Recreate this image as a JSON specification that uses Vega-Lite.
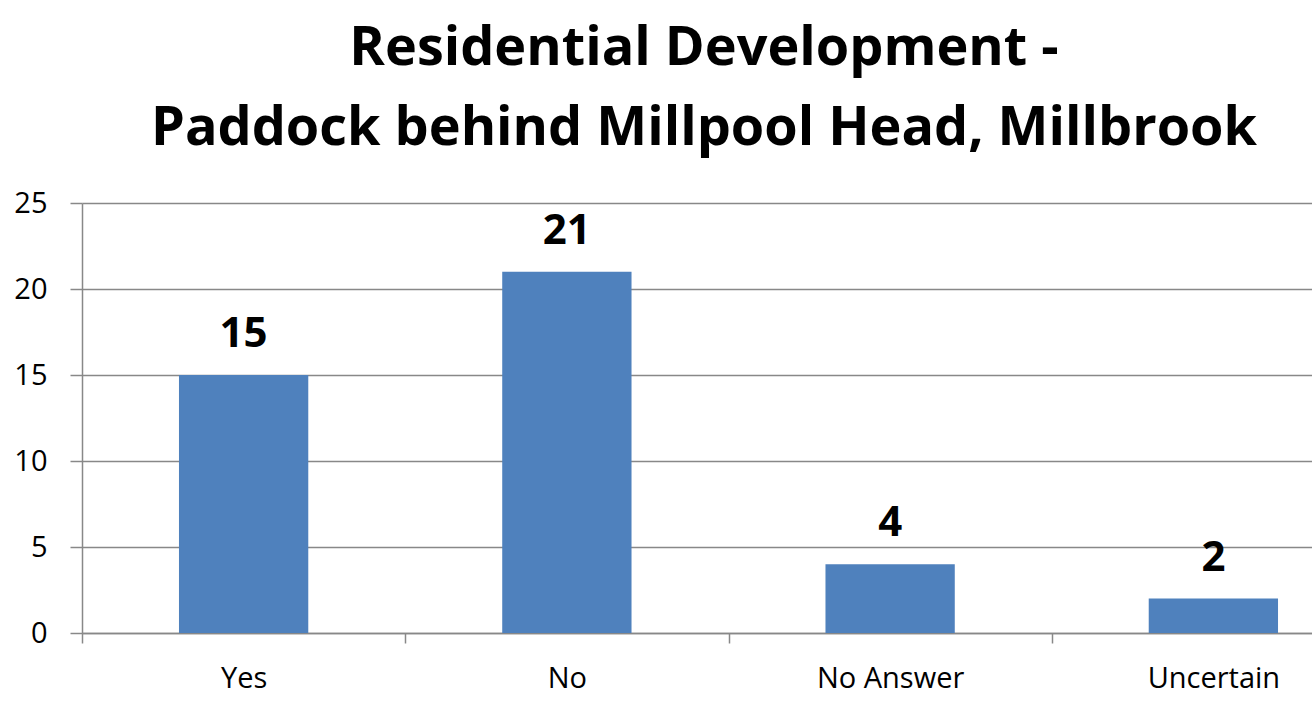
{
  "$schema": "https://vega.github.io/schema/vega-lite/v6.json",
  "width": 1230,
  "height": 430,
  "autosize": "none",
  "padding": {"left": 82, "top": 203, "right": 0, "bottom": 79},
  "background": "white",
  "config": {"view": {"stroke": null}, "font": "Open Sans"},
  "title": {
    "text": ["Residential Development -", "Paddock behind Millpool Head, Millbrook"],
    "fontSize": 54,
    "fontWeight": "bold",
    "font": "Open Sans",
    "lineHeight": 80,
    "anchor": "middle",
    "offset": 33,
    "dx": 7,
    "color": "black"
  },
  "data": {
    "values": [
      {"answer": "Yes", "count": 15},
      {"answer": "No", "count": 21},
      {"answer": "No Answer", "count": 4},
      {"answer": "Uncertain", "count": 2}
    ]
  },
  "encoding": {
    "x": {
      "field": "answer",
      "type": "nominal",
      "sort": null,
      "scale": {"range": [0, 1293], "paddingInner": 0, "paddingOuter": 0},
      "axis": {
        "title": null,
        "labelAngle": 0,
        "tickBand": "extent",
        "tickSize": 10,
        "labelPadding": 21,
        "labelFontSize": 29,
        "labelFont": "Open Sans",
        "labelColor": "black",
        "domainColor": "#888888",
        "tickColor": "#888888",
        "domainWidth": 1.5,
        "tickWidth": 1.5,
        "grid": false
      }
    },
    "y": {
      "field": "count",
      "type": "quantitative",
      "scale": {"domain": [0, 25]},
      "axis": {
        "title": null,
        "values": [0, 5, 10, 15, 20, 25],
        "grid": true,
        "gridColor": "#888888",
        "gridWidth": 1.5,
        "tickSize": 12,
        "labelPadding": 23,
        "labelFontSize": 29,
        "labelFont": "Open Sans",
        "labelColor": "black",
        "domainColor": "#888888",
        "tickColor": "#888888",
        "domainWidth": 1.5,
        "tickWidth": 1.5
      }
    }
  },
  "layer": [
    {"mark": {"type": "bar", "width": {"band": 0.4}, "color": "#4F81BD"}},
    {
      "mark": {"type": "text", "fontSize": 42, "fontWeight": "bold", "font": "Open Sans", "baseline": "alphabetic", "dy": -28, "color": "black"},
      "encoding": {"text": {"field": "count", "type": "quantitative"}}
    }
  ]
}
